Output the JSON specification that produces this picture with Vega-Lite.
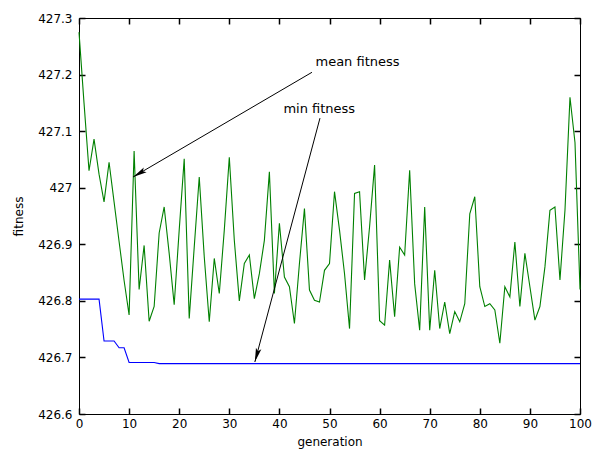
{
  "$schema": "https://vega.github.io/schema/vega-lite/v6.json",
  "width": 501,
  "height": 396,
  "autosize": "none",
  "padding": {"left": 79, "top": 18, "right": 12, "bottom": 41},
  "background": "white",
  "config": {
    "view": {"stroke": null},
    "font": "DejaVu Sans",
    "axis": {
      "grid": false,
      "ticks": true,
      "domainColor": "black",
      "tickColor": "black",
      "tickOpacity": 1,
      "labelColor": "black",
      "titleColor": "black",
      "labelFont": "DejaVu Sans",
      "labelFontSize": 12,
      "titleFont": "DejaVu Sans",
      "titleFontSize": 12,
      "titleFontWeight": "normal",
      "labelFlush": false
    }
  },
  "datasets": {
    "fit": [
      {"generation":0,"mean":427.275,"min":426.803},
      {"generation":1,"mean":427.15,"min":426.803},
      {"generation":2,"mean":427.03,"min":426.803},
      {"generation":3,"mean":427.086,"min":426.803},
      {"generation":4,"mean":427.024,"min":426.803},
      {"generation":5,"mean":426.975,"min":426.729},
      {"generation":6,"mean":427.045,"min":426.729},
      {"generation":7,"mean":426.975,"min":426.729},
      {"generation":8,"mean":426.905,"min":426.717},
      {"generation":9,"mean":426.836,"min":426.717},
      {"generation":10,"mean":426.775,"min":426.691},
      {"generation":11,"mean":427.065,"min":426.691},
      {"generation":12,"mean":426.82,"min":426.691},
      {"generation":13,"mean":426.898,"min":426.691},
      {"generation":14,"mean":426.764,"min":426.691},
      {"generation":15,"mean":426.79,"min":426.691},
      {"generation":16,"mean":426.92,"min":426.689},
      {"generation":17,"mean":426.966,"min":426.689},
      {"generation":18,"mean":426.884,"min":426.689},
      {"generation":19,"mean":426.793,"min":426.689},
      {"generation":20,"mean":426.925,"min":426.689},
      {"generation":21,"mean":427.051,"min":426.689},
      {"generation":22,"mean":426.769,"min":426.689},
      {"generation":23,"mean":426.895,"min":426.689},
      {"generation":24,"mean":427.019,"min":426.689},
      {"generation":25,"mean":426.878,"min":426.689},
      {"generation":26,"mean":426.763,"min":426.689},
      {"generation":27,"mean":426.875,"min":426.689},
      {"generation":28,"mean":426.813,"min":426.689},
      {"generation":29,"mean":426.925,"min":426.689},
      {"generation":30,"mean":427.054,"min":426.689},
      {"generation":31,"mean":426.907,"min":426.689},
      {"generation":32,"mean":426.8,"min":426.689},
      {"generation":33,"mean":426.866,"min":426.689},
      {"generation":34,"mean":426.881,"min":426.689},
      {"generation":35,"mean":426.804,"min":426.689},
      {"generation":36,"mean":426.848,"min":426.689},
      {"generation":37,"mean":426.907,"min":426.689},
      {"generation":38,"mean":427.028,"min":426.689},
      {"generation":39,"mean":426.813,"min":426.689},
      {"generation":40,"mean":426.937,"min":426.689},
      {"generation":41,"mean":426.842,"min":426.689},
      {"generation":42,"mean":426.825,"min":426.689},
      {"generation":43,"mean":426.76,"min":426.689},
      {"generation":44,"mean":426.866,"min":426.689},
      {"generation":45,"mean":426.963,"min":426.689},
      {"generation":46,"mean":426.819,"min":426.689},
      {"generation":47,"mean":426.801,"min":426.689},
      {"generation":48,"mean":426.798,"min":426.689},
      {"generation":49,"mean":426.854,"min":426.689},
      {"generation":50,"mean":426.866,"min":426.689},
      {"generation":51,"mean":426.993,"min":426.689},
      {"generation":52,"mean":426.925,"min":426.689},
      {"generation":53,"mean":426.848,"min":426.689},
      {"generation":54,"mean":426.751,"min":426.689},
      {"generation":55,"mean":426.99,"min":426.689},
      {"generation":56,"mean":426.993,"min":426.689},
      {"generation":57,"mean":426.837,"min":426.689},
      {"generation":58,"mean":426.931,"min":426.689},
      {"generation":59,"mean":427.04,"min":426.689},
      {"generation":60,"mean":426.765,"min":426.689},
      {"generation":61,"mean":426.757,"min":426.689},
      {"generation":62,"mean":426.872,"min":426.689},
      {"generation":63,"mean":426.772,"min":426.689},
      {"generation":64,"mean":426.895,"min":426.689},
      {"generation":65,"mean":426.881,"min":426.689},
      {"generation":66,"mean":427.031,"min":426.689},
      {"generation":67,"mean":426.83,"min":426.689},
      {"generation":68,"mean":426.748,"min":426.689},
      {"generation":69,"mean":426.966,"min":426.689},
      {"generation":70,"mean":426.748,"min":426.689},
      {"generation":71,"mean":426.854,"min":426.689},
      {"generation":72,"mean":426.751,"min":426.689},
      {"generation":73,"mean":426.798,"min":426.689},
      {"generation":74,"mean":426.742,"min":426.689},
      {"generation":75,"mean":426.781,"min":426.689},
      {"generation":76,"mean":426.763,"min":426.689},
      {"generation":77,"mean":426.795,"min":426.689},
      {"generation":78,"mean":426.954,"min":426.689},
      {"generation":79,"mean":426.984,"min":426.689},
      {"generation":80,"mean":426.825,"min":426.689},
      {"generation":81,"mean":426.79,"min":426.689},
      {"generation":82,"mean":426.795,"min":426.689},
      {"generation":83,"mean":426.784,"min":426.689},
      {"generation":84,"mean":426.725,"min":426.689},
      {"generation":85,"mean":426.825,"min":426.689},
      {"generation":86,"mean":426.807,"min":426.689},
      {"generation":87,"mean":426.904,"min":426.689},
      {"generation":88,"mean":426.79,"min":426.689},
      {"generation":89,"mean":426.884,"min":426.689},
      {"generation":90,"mean":426.825,"min":426.689},
      {"generation":91,"mean":426.766,"min":426.689},
      {"generation":92,"mean":426.79,"min":426.689},
      {"generation":93,"mean":426.86,"min":426.689},
      {"generation":94,"mean":426.96,"min":426.689},
      {"generation":95,"mean":426.966,"min":426.689},
      {"generation":96,"mean":426.837,"min":426.689},
      {"generation":97,"mean":426.96,"min":426.689},
      {"generation":98,"mean":427.16,"min":426.689},
      {"generation":99,"mean":427.08,"min":426.689},
      {"generation":100,"mean":426.82,"min":426.689}
    ],
    "notes": [
      {"label":"mean fitness","fromGen":46.5,"fromFit":427.204,"toGen":10.8,"toFit":427.019,"textGen":47.2,"textFit":427.222},
      {"label":"min fitness","fromGen":48.1,"fromFit":427.123,"toGen":35.1,"toFit":426.692,"textGen":40.8,"textFit":427.139}
    ]
  },
  "resolve": {"axis": {"x": "independent", "y": "independent"}},
  "layer": [
    {
      "data": {"name": "fit"},
      "mark": {"type": "line", "color": "#008000", "strokeWidth": 1.1},
      "encoding": {
        "x": {"field": "generation", "type": "quantitative",
              "scale": {"domain": [0, 100], "nice": false},
              "axis": {"orient": "bottom", "title": "generation", "values": [0,10,20,30,40,50,60,70,80,90,100], "tickSize": -6, "tickWidth": 1.5, "labelPadding": 10, "titlePadding": 7}},
        "y": {"field": "mean", "type": "quantitative",
              "scale": {"domain": [426.6, 427.3], "nice": false, "zero": false},
              "axis": {"orient": "left", "title": "fitness", "values": [426.6,426.7,426.8,426.9,427,427.1,427.2,427.3], "format": "~g", "tickSize": -6, "tickWidth": 1.5, "labelPadding": 13, "titlePadding": 12}}
      }
    },
    {
      "data": {"name": "fit"},
      "mark": {"type": "line", "color": "#0000ff", "strokeWidth": 1.1},
      "encoding": {
        "x": {"field": "generation", "type": "quantitative",
              "scale": {"domain": [0, 100], "nice": false},
              "axis": {"orient": "top", "title": null, "labels": false, "tickSize": -6, "tickWidth": 1.5, "values": [0,10,20,30,40,50,60,70,80,90,100]}},
        "y": {"field": "min", "type": "quantitative",
              "scale": {"domain": [426.6, 427.3], "nice": false, "zero": false},
              "axis": {"orient": "right", "title": null, "labels": false, "tickSize": -6, "tickWidth": 1.5, "values": [426.6,426.7,426.8,426.9,427,427.1,427.2,427.3]}}
      }
    },
    {
      "data": {"name": "notes"},
      "mark": {"type": "rule", "color": "#000", "strokeWidth": 1},
      "encoding": {
        "x": {"field": "fromGen", "type": "quantitative", "axis": null},
        "y": {"field": "fromFit", "type": "quantitative", "axis": null},
        "x2": {"field": "toGen"},
        "y2": {"field": "toFit"}
      }
    },
    {
      "data": {"name": "notes"},
      "transform": [{"filter": "datum.label == 'mean fitness'"}],
      "mark": {"type": "point", "shape": "M0,0L-0.4,2L0,1.6L0.4,2Z", "filled": true, "color": "#000", "opacity": 1, "size": 196, "angle": 239.8, "strokeWidth": 0},
      "encoding": {
        "x": {"field": "toGen", "type": "quantitative", "axis": null},
        "y": {"field": "toFit", "type": "quantitative", "axis": null}
      }
    },
    {
      "data": {"name": "notes"},
      "transform": [{"filter": "datum.label == 'min fitness'"}],
      "mark": {"type": "point", "shape": "M0,0L-0.4,2L0,1.6L0.4,2Z", "filled": true, "color": "#000", "opacity": 1, "size": 196, "angle": 195.8, "strokeWidth": 0},
      "encoding": {
        "x": {"field": "toGen", "type": "quantitative", "axis": null},
        "y": {"field": "toFit", "type": "quantitative", "axis": null}
      }
    },
    {
      "data": {"name": "notes"},
      "mark": {"type": "text", "align": "left", "baseline": "middle", "font": "DejaVu Sans", "fontSize": 13, "color": "#000"},
      "encoding": {
        "x": {"field": "textGen", "type": "quantitative", "axis": null},
        "y": {"field": "textFit", "type": "quantitative", "axis": null},
        "text": {"field": "label"}
      }
    }
  ]
}
